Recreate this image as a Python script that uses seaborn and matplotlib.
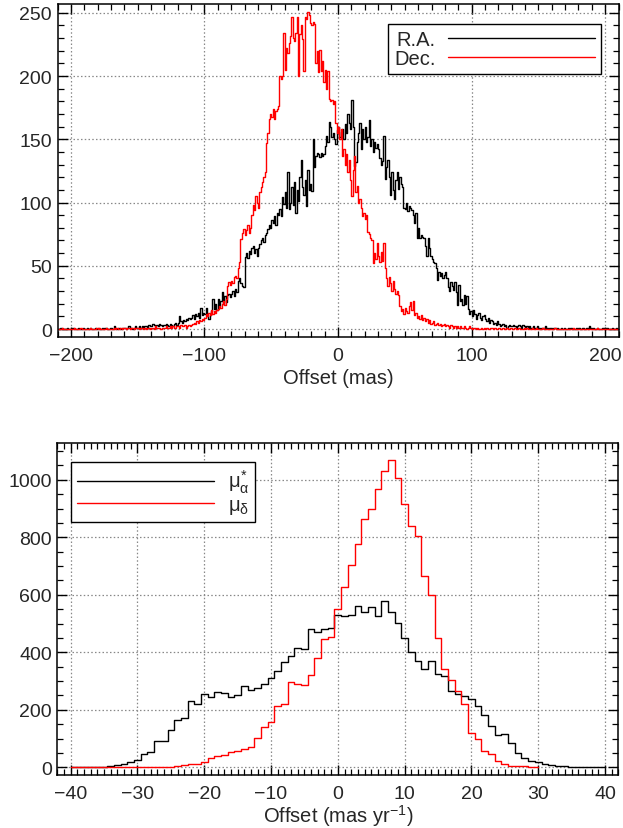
import numpy as np
import pandas as pd
import matplotlib
matplotlib.use("Agg")
import matplotlib.pyplot as plt
from matplotlib.ticker import MultipleLocator
import seaborn as sns

# Top panel: position offsets, 1 mas bins from -210 to 210
top_edges_start = -210
ra_counts = [
    0, 0, 1, 0, 0, 0, 0, 1, 0, 0,
    0, 1, 0, 0, 0, 1, 0, 0, 0, 1,
    0, 0, 1, 0, 1, 0, 0, 0, 1, 0,
    1, 0, 0, 1, 0, 1, 1, 0, 0, 1,
    1, 0, 2, 1, 0, 1, 1, 0, 1, 1,
    1, 0, 1, 2, 1, 1, 0, 1, 2, 1,
    1, 2, 1, 2, 1, 2, 2, 1, 3, 2,
    2, 4, 3, 2, 3, 2, 4, 3, 2, 3,
    3, 4, 3, 2, 4, 3, 2, 4, 5, 3,
    5, 10, 6, 5, 7, 6, 8, 7, 9, 8,
    9, 11, 8, 12, 10, 13, 9, 17, 11, 13,
    12, 17, 10, 8, 11, 14, 24, 16, 20, 15,
    24, 18, 22, 29, 20, 26, 21, 27, 28, 25,
    28, 30, 26, 32, 29, 38, 40, 36, 34, 33,
    57, 60, 56, 62, 59, 64, 66, 60, 63, 58,
    64, 67, 70, 72, 69, 74, 76, 79, 82, 80,
    86, 84, 89, 82, 92, 90, 95, 89, 104, 99,
    108, 96, 124, 95, 100, 112, 98, 116, 92, 110,
    101, 120, 134, 112, 106, 118, 97, 126, 110, 115,
    109, 150, 128, 137, 139, 138, 136, 139, 137, 138,
    145, 153, 148, 164, 160, 152, 155, 150, 146, 157,
    160, 152, 156, 158, 150, 162, 155, 170, 163, 158,
    181, 160, 129, 132, 148, 155, 163, 142, 158, 150,
    160, 148, 152, 165, 145, 150, 140, 148, 143, 146,
    142, 135, 130, 133, 153, 119, 128, 134, 120, 106,
    124, 110, 103, 118, 124, 111, 120, 115, 112, 96,
    95, 100, 93, 97, 96, 94, 90, 84, 92, 72,
    80, 72, 74, 73, 72, 66, 58, 72, 64, 58,
    55, 53, 52, 48, 39, 45, 42, 44, 40, 43,
    45, 40, 33, 30, 37, 34, 31, 37, 29, 19,
    35, 22, 24, 19, 27, 20, 26, 16, 12, 14,
    10, 15, 12, 8, 11, 13, 9, 7, 10, 11,
    8, 6, 9, 5, 7, 6, 4, 5, 3, 6,
    4, 2, 3, 4, 2, 3, 1, 2, 3, 2,
    2, 3, 2, 1, 2, 3, 2, 1, 3, 2,
    1, 2, 1, 2, 1, 1, 2, 1, 1, 2,
    1, 0, 1, 1, 0, 2, 1, 0, 1, 1,
    0, 1, 1, 0, 1, 0, 0, 1, 0, 1,
    0, 0, 1, 0, 1, 0, 0, 0, 1, 0,
    1, 0, 0, 1, 0, 0, 1, 0, 2, 1,
    0, 1, 0, 0, 1, 0, 0, 0, 1, 0,
    0, 1, 0, 0, 0, 1, 0, 0, 1, 0,
]
dec_counts = [
    0, 0, 0, 1, 0, 0, 0, 0, 0, 0,
    0, 0, 1, 0, 0, 0, 0, 1, 0, 0,
    0, 0, 0, 0, 1, 0, 0, 0, 0, 1,
    0, 1, 0, 0, 0, 0, 1, 0, 0, 0,
    0, 0, 1, 0, 1, 0, 0, 1, 0, 1,
    1, 0, 1, 1, 0, 1, 1, 0, 1, 1,
    1, 0, 1, 1, 0, 1, 0, 1, 1, 0,
    1, 1, 0, 2, 1, 1, 1, 0, 1, 1,
    1, 2, 1, 1, 2, 1, 2, 1, 1, 2,
    2, 1, 3, 2, 2, 3, 1, 2, 3, 2,
    3, 4, 5, 4, 6, 5, 7, 6, 8, 7,
    9, 12, 10, 13, 11, 15, 12, 14, 13, 15,
    16, 18, 17, 20, 22, 19, 24, 34, 37, 35,
    38, 36, 41, 42, 40, 48, 53, 71, 76, 79,
    74, 78, 82, 76, 80, 90, 98, 94, 105, 100,
    96, 108, 112, 116, 120, 124, 147, 155, 166, 170,
    168, 174, 166, 172, 174, 176, 200, 198, 200, 234,
    205, 222, 218, 226, 232, 247, 230, 228, 234, 247,
    200, 233, 240, 229, 204, 247, 245, 251, 248, 242,
    240, 243, 241, 210, 220, 203, 221, 204, 212, 195,
    205, 190, 204, 182, 180, 181, 178, 180, 163, 155,
    160, 150, 158, 137, 142, 130, 138, 124, 134, 118,
    105, 126, 137, 108, 113, 100, 103, 96, 89, 92,
    87, 90, 77, 75, 72, 70, 52, 60, 55, 68,
    58, 53, 61, 54, 68, 48, 40, 34, 41, 36,
    30, 38, 32, 28, 30, 27, 18, 14, 16, 12,
    17, 14, 13, 18, 21, 15, 22, 11, 13, 9,
    10, 8, 11, 7, 9, 6, 8, 5, 7, 4,
    5, 6, 3, 4, 5, 3, 4, 2, 3, 4,
    2, 3, 2, 1, 3, 2, 1, 2, 1, 2,
    1, 2, 1, 1, 2, 1, 0, 1, 2, 1,
    0, 1, 1, 0, 1, 0, 0, 1, 0, 1,
    0, 1, 0, 0, 1, 1, 0, 1, 0, 0,
    1, 0, 0, 1, 0, 0, 1, 0, 0, 1,
    0, 0, 1, 0, 0, 1, 0, 0, 0, 1,
    0, 1, 0, 0, 0, 1, 0, 0, 1, 0,
    0, 0, 0, 1, 0, 0, 0, 0, 0, 0,
    0, 0, 1, 0, 0, 0, 0, 0, 0, 0,
    0, 0, 0, 0, 0, 0, 1, 0, 0, 0,
    0, 0, 0, 0, 0, 0, 0, 0, 0, 0,
    0, 0, 0, 0, 1, 0, 0, 0, 0, 0,
    0, 0, 0, 0, 0, 0, 0, 0, 0, 0,
]

# Bottom panel: proper motion offsets, 1 mas/yr bins centred on integers
pm_ra_start = -40
pm_ra_counts = [
    0, 0, 0, 0, 0, 1, 3, 8, 12, 17,           # -40 .. -31
    25, 46, 52, 90, 90, 130, 164, 173, 231, 220,  # -30 .. -21
    254, 245, 262, 260, 243, 251, 283, 268, 277, 289,  # -20 .. -11
    312, 335, 366, 387, 414, 413, 482, 470, 482, 486,  # -10 .. -1
    528, 525, 529, 560, 540, 556, 526, 579, 541, 503,  # 0 .. 9
    449, 401, 368, 341, 370, 324, 316, 266, 254, 249,  # 10 .. 19
    239, 214, 182, 145, 112, 116, 83, 49, 31, 23,     # 20 .. 29
    17, 12, 8, 3, 3, 1, 0, 0, 0, 0, 0,               # 30 .. 40
]
pm_dec_start = -40
pm_dec_counts = [
    0, 0, 0, 0, 0, 0, 0, 0, 0, 0,             # -40 .. -31
    0, 0, 0, 0, 2, 2, 5, 8, 10, 12,           # -30 .. -21
    17, 31, 38, 43, 52, 58, 62, 70, 101, 139,  # -20 .. -11
    156, 214, 220, 298, 289, 287, 321, 379, 445, 453,  # -10 .. -1
    551, 628, 705, 775, 864, 898, 969, 1029, 1069, 1006,  # 0 .. 9
    916, 840, 803, 665, 598, 449, 341, 304, 264, 220,  # 10 .. 19
    119, 98, 58, 46, 23, 12, 6, 6, 3, 2, 1,   # 20 .. 30
]

top_x = top_edges_start + 0.5 + np.arange(len(ra_counts))
pm_ra_x = pm_ra_start + np.arange(len(pm_ra_counts))
pm_dec_x = pm_dec_start + np.arange(len(pm_dec_counts))

top_df = pd.DataFrame({"offset": top_x, "R.A.": ra_counts, "Dec.": dec_counts})
pm_ra_df = pd.DataFrame({"offset": pm_ra_x, "count": pm_ra_counts})
pm_dec_df = pd.DataFrame({"offset": pm_dec_x, "count": pm_dec_counts})

sns.set_style("white")
plt.rcParams["font.family"] = ["Liberation Sans", "DejaVu Sans"]
plt.rcParams["mathtext.fontset"] = "custom"
plt.rcParams["mathtext.rm"] = "Liberation Sans"
plt.rcParams["mathtext.it"] = "Liberation Sans"

fs_tick = 14
fs_lab = 14.5
fig = plt.figure(figsize=(6.23, 8.29), dpi=100)
ax1 = fig.add_axes([0.0923, 0.5917, 0.9005, 0.4023])
ax2 = fig.add_axes([0.0920, 0.0639, 0.9005, 0.4005])

sns.lineplot(data=top_df, x="offset", y="R.A.", ax=ax1, color="black", lw=1.0,
             drawstyle="steps-mid", label="R.A.")
sns.lineplot(data=top_df, x="offset", y="Dec.", ax=ax1, color="red", lw=1.0,
             drawstyle="steps-mid", label="Dec.")

sns.lineplot(data=pm_ra_df, x="offset", y="count", ax=ax2, color="black", lw=1.0,
             drawstyle="steps-mid", label=r"$\mu_{\alpha}^{*}$")
sns.lineplot(data=pm_dec_df, x="offset", y="count", ax=ax2, color="red", lw=1.0,
             drawstyle="steps-mid", label=r"$\mu_{\delta}$")

ax1.set_xlim(-210, 210)
ax1.set_ylim(-6.7, 257)
ax1.xaxis.set_major_locator(MultipleLocator(100))
ax1.xaxis.set_minor_locator(MultipleLocator(10))
ax1.yaxis.set_major_locator(MultipleLocator(50))
ax1.yaxis.set_minor_locator(MultipleLocator(10))
ax1.set_xlabel("Offset (mas)", fontsize=fs_lab, labelpad=3)

ax2.set_xlim(-42, 42)
ax2.set_ylim(-27, 1128)
ax2.xaxis.set_major_locator(MultipleLocator(10))
ax2.xaxis.set_minor_locator(MultipleLocator(1))
ax2.yaxis.set_major_locator(MultipleLocator(200))
ax2.yaxis.set_minor_locator(MultipleLocator(50))
ax2.set_xlabel(r"Offset (mas yr$^{-1}$)", fontsize=fs_lab, labelpad=0)

for ax in (ax1, ax2):
    ax.set_ylabel("")
    ax.grid(True, which="major", color="#888888", linestyle=(0, (1.2, 1.8)), lw=0.9)
    ax.set_axisbelow(True)
    ax.tick_params(which="both", direction="in", top=True, right=True,
                   bottom=True, left=True, color="black", labelsize=fs_tick)
    ax.tick_params(which="major", length=7, width=1.0)
    ax.tick_params(which="minor", length=4, width=0.9)
    ax.tick_params(axis="x", which="major", pad=7)
    ax.tick_params(axis="y", which="major", pad=4)
    for sp in ax.spines.values():
        sp.set_color("black")
        sp.set_linewidth(1.1)

leg1 = ax1.legend(loc="upper left", bbox_to_anchor=(0.589, 0.94), borderaxespad=0,
                  markerfirst=False, handlelength=7.3, handletextpad=0.6,
                  labelspacing=0.0, borderpad=0.3, fontsize=fs_lab, frameon=True,
                  fancybox=False, framealpha=1, edgecolor="black")
leg1.get_frame().set_linewidth(1.0)

leg2 = ax2.legend(loc="upper left", bbox_to_anchor=(0.024, 0.943), borderaxespad=0,
                  markerfirst=True, handlelength=6.8, handletextpad=0.7,
                  labelspacing=0.0, borderpad=0.3, fontsize=fs_lab, frameon=True,
                  fancybox=False, framealpha=1, edgecolor="black")
leg2.get_frame().set_linewidth(1.0)

fig.savefig("out.png", dpi=100)
